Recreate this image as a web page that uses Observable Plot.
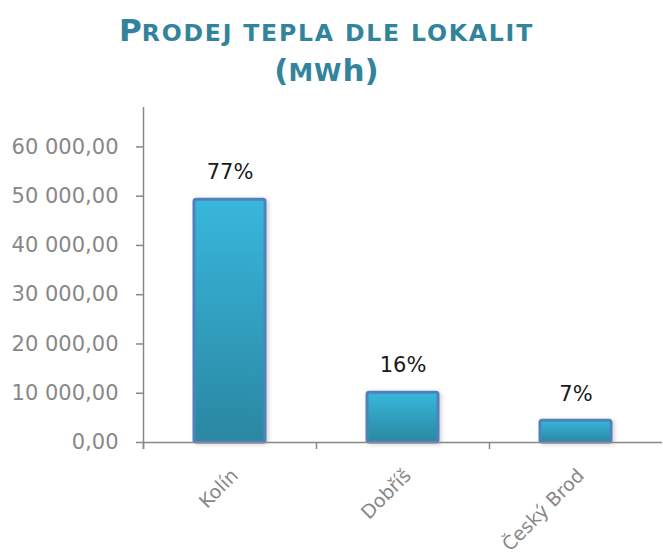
<!DOCTYPE html>
<html>
<head>
<meta charset="utf-8">
<script src="https://cdn.jsdelivr.net/npm/d3@7"></script>
<script src="https://cdn.jsdelivr.net/npm/@observablehq/plot@0.6"></script>
<style>
  html, body { margin: 0; padding: 0; background: #fff; }
  #wrap { width: 663px; height: 559px; position: relative; overflow: hidden; font-family: "DejaVu Sans", Verdana, sans-serif; }
  #title { height: 90px; box-sizing: border-box; padding-top: 12px; padding-right: 10px; text-align: center; color: #31849b; font-weight: bold; font-size: 31px; line-height: 37px; }
  #title .sc { font-size: 0.76em; letter-spacing: 1.8px; }
  #title .sc2 { font-size: 0.8em; letter-spacing: 1px; }
</style>
</head>
<body>
<div id="wrap">
  <div id="title">
    <div>P<span class="sc">RODEJ TEPLA DLE LOKALIT</span></div>
    <div>(<span class="sc2">MW</span>h)</div>
  </div>
  <div id="chart"></div>
</div>
<script>
const categories = ["Kolín", "Dobříš", "Český Brod"];
const values = [49300, 10100, 4400];
const shareLabels = ["77%", "16%", "7%"];
const yTicks = [0, 10000, 20000, 30000, 40000, 50000, 60000];

const data = categories.map((c, i) => ({category: c, value: values[i], share: shareLabels[i]}));

const locale = d3.formatLocale({decimal: ",", thousands: " ", grouping: [3], currency: ["", ""]});
const fmt = locale.format(",.2f");

const width = 663, height = 469;
const marginLeft = 143, marginRight = 1;
const step = (width - marginLeft - marginRight) / categories.length;
const axisGray = "#888888";

const chart = Plot.plot({
  width, height,
  marginLeft, marginRight,
  marginTop: 17,
  marginBottom: 117,
  style: {fontFamily: "'DejaVu Sans', Verdana, sans-serif", fontSize: "21px", background: "#fff", overflow: "visible"},
  x: {domain: categories, padding: 0, label: null},
  y: {domain: [0, 68000], label: null},
  marks: [
    Plot.barY(data, {
      x: "category", y: "value",
      fill: "url(#barGrad)", stroke: "#4f81bd", strokeWidth: 3,
      insetLeft: 51, insetRight: 51, rx: 2
    }),
    Plot.ruleY([0], {stroke: axisGray, strokeWidth: 1.5}),
    Plot.ruleX([categories[0]], {dx: -step / 2, stroke: axisGray, strokeWidth: 1.5, insetBottom: -7}),
    Plot.ruleX(categories, {x: d => d, y1: 0, y2: 0, dx: -step / 2, insetBottom: -7, stroke: axisGray, strokeWidth: 1.5}),
    Plot.axisY({ticks: yTicks, tickFormat: fmt, tickSize: 7, tickPadding: 18, color: axisGray, stroke: axisGray, strokeWidth: 1.5, fontSize: 21, label: null}),
    Plot.axisX({tickRotate: -45, tickSize: 0, tickPadding: 30, dx: 5, color: axisGray, fontSize: 19, label: null}),
    Plot.text(data, {x: "category", y: "value", text: "share", dy: -27, fill: "#1a1a1a", fontSize: 21})
  ]
});

const svg = d3.select(chart);
const defs = svg.insert("defs", ":first-child");
const grad = defs.append("linearGradient").attr("id", "barGrad").attr("x1", 0).attr("y1", 0).attr("x2", 0).attr("y2", 1);
grad.append("stop").attr("offset", "0%").attr("stop-color", "#38b7dc");
grad.append("stop").attr("offset", "100%").attr("stop-color", "#2a87a1");
svg.selectAll("g[aria-label='bar'] rect").style("filter", "drop-shadow(2px 1px 2px rgba(0,0,0,0.18))");

document.getElementById("chart").appendChild(chart);
</script>
</body>
</html>
